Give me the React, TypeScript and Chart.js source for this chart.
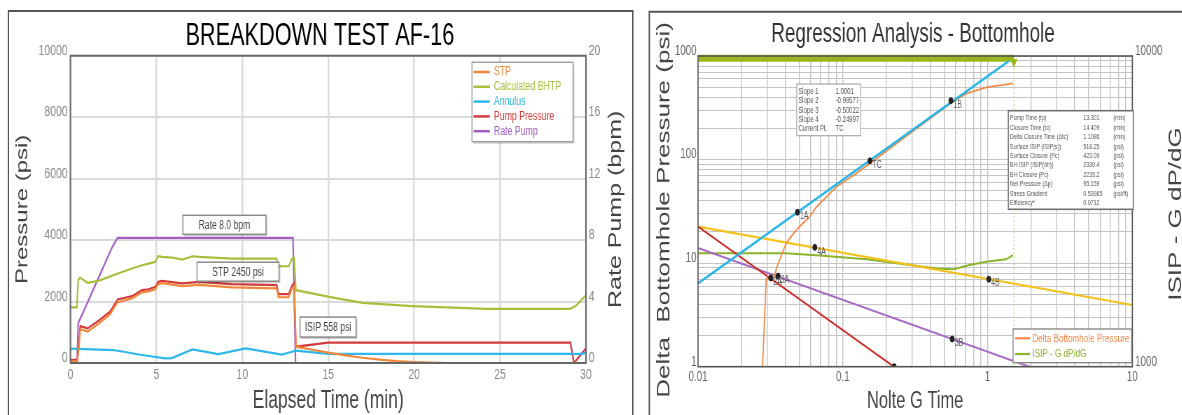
import { useEffect, useRef } from "react";
import { Chart, registerables } from "chart.js";

Chart.register(...registerables);

const SQUEEZE = 0.7;
const H = 415;
const LW = 914;
const RW = 775;
const FONT = '"Liberation Sans", Arial, Helvetica, sans-serif';

// ================= Left chart : BREAKDOWN TEST AF-16 =================
const leftTitle = "BREAKDOWN TEST AF-16";
const leftXTitle = "Elapsed Time (min)";
const leftYTitle = "Pressure (psi)";
const leftY2Title = "Rate Pump (bpm)";

const stpTime = [0, 0.4, 0.5, 0.57, 1.0, 1.63, 2.3, 2.74, 3.58, 4.16, 4.55, 4.94, 5.1, 5.33, 6.5, 7.5, 9.4, 12.0, 12.1, 12.7, 12.9, 13.02, 13.12, 14, 15, 16, 17, 18, 19, 20, 21, 22, 26.5];
const stpPsi = [50, 60, 600, 1100, 1020, 1280, 1580, 1980, 2100, 2300, 2330, 2400, 2560, 2600, 2500, 2540, 2460, 2430, 2140, 2140, 2430, 2480, 530, 440, 340, 250, 170, 110, 60, 30, 10, 0, 0];

const bhtpTime = [0, 0.37, 0.45, 0.55, 1.0, 1.63, 2.64, 3.58, 4.16, 4.94, 5.1, 5.33, 5.9, 6.5, 7.1, 7.5, 9.4, 12.0, 12.1, 12.7, 12.9, 13.02, 13.12, 15.06, 17, 19.9, 21.9, 24.2, 29.07, 29.4, 29.95];
const bhtpPsi = [1808, 1808, 2700, 2782, 2607, 2672, 2890, 3075, 3182, 3289, 3474, 3451, 3432, 3367, 3474, 3451, 3399, 3399, 3149, 3149, 3399, 3420, 2370, 2153, 1958, 1851, 1808, 1763, 1763, 1851, 2175];

const annulusTime = [0, 2.5, 4.16, 5.5, 5.9, 7.1, 8.6, 10.2, 12.3, 12.9, 13.1, 15, 29.8, 30];
const annulusPsi = [470, 422, 260, 153, 160, 445, 290, 477, 270, 367, 400, 300, 300, 340];

const pumpTime = [0, 0.4, 0.5, 0.57, 1.0, 1.63, 2.3, 2.74, 3.58, 4.16, 4.55, 4.94, 5.1, 5.33, 6.5, 7.5, 9.4, 12.0, 12.1, 12.7, 12.9, 13.02, 13.12, 15, 29.1, 29.3, 29.6, 30];
const pumpPsi = [100, 110, 700, 1200, 1127, 1373, 1666, 2068, 2175, 2370, 2400, 2477, 2640, 2670, 2588, 2640, 2565, 2532, 2240, 2240, 2532, 2600, 530, 660, 660, 0, 200, 480];

const rateTime = [0, 0.38, 0.45, 0.82, 2.41, 2.74, 12.95, 13.1, 30];
const rateBpm = [0, 0, 2.6, 3.5, 7.5, 8.15, 8.15, 0, 0];

const noteText = ["Rate 8.0 bpm", "STP 2450 psi", "ISIP 558 psi"];
const noteTime = [8.96, 9.75, 14.99];
const notePsi = [4497, 2971, 1169];

// ================= Right chart : Regression Analysis =================
const rightTitle = "Regression Analysis - Bottomhole";
const rightXTitle = "Nolte G Time";
const rightYTitle = "Delta  Bottomhole Pressure (psi)";
const rightY2Title = "ISIP - G dP/dG";

const slope1G = [0.01, 1.4];
const slope1P = [6.38, 893];
const slope2G = [0.01, 0.235];
const slope2P = [22.5, 0.96];
const slope3G = [0.01, 2.2];
const slope3P = [14.0, 0.94];
const slope4G = [0.01, 10];
const slope4P = [22.5, 3.94];

const dbhpG = [0.0275, 0.0279, 0.0294, 0.0296, 0.0334, 0.0348, 0.0397, 0.043, 0.049, 0.0546, 0.059, 0.0657, 0.0905, 0.124, 0.154, 0.3, 0.558, 0.716, 0.98, 1.505];
const dbhpP = [0.6, 1.0, 5.9, 7.1, 7.2, 8.9, 14.4, 17.4, 21.7, 25.2, 28.1, 34.9, 54.7, 73.5, 91.8, 185, 350, 435, 498, 544];

const isipG = [0.01, 0.04, 0.0657, 0.146, 0.29, 0.45, 0.58, 0.75, 0.98, 1.34, 1.5];
const isipDPdG = [2317, 2317, 2286, 2216, 2125, 2070, 2058, 2125, 2178, 2216, 2286];

const pumpBarG = [0.01, 1.52];
const pumpBarP = [950, 950];
const closureG = [1.52, 1.52];
const closureP = [1000, 1];
const closureMarkG = [1.52];
const closureMarkP = [873];

const markerG = [0.0486, 0.154, 0.558, 0.0641, 1.02, 0.0318, 0.0357, 0.57, 0.2264];
const markerP = [31, 97.3, 370, 14.2, 7.0, 7.2, 7.5, 1.85, 1.0];
const markerLabel = ["1A", "TC", "1B", "4A", "4B", "2A", "3A", "3B", "2B"];

const slopeNames = ["Slope 1", "Slope 2", "Slope 3", "Slope 4", "Current Pt."];
const slopeValues = ["1.0001", "-0.99577", "-0.50022", "-0.24997", "TC"];

const infoNames = ["Pump Time (tp)", "Closure Time (tc)", "Delta Closure Time (\u0394tc)", "Surface ISIP (ISIP(s))", "Surface Closure (Pc)", "BH ISIP (ISIP(bh))", "BH Closure (Pc)", "Net Pressure (\u0394p)", "Stress Gradient", "Efficiency*"];
const infoValues = ["13.301", "14.409", "1.1086", "518.25", "423.09", "2330.4", "2235.2", "95.159", "0.53985", "0.0712"];
const infoUnits = ["(min)", "(min)", "(min)", "(psi)", "(psi)", "(psi)", "(psi)", "(psi)", "(psi/ft)", ""];

// ================= helpers =================
function pts(xs: number[], ys: number[]) {
  return xs.map((x, i) => ({ x, y: ys[i] }));
}

function drawText(ctx: any, s: string, x: number, y: number, size: number, color: string, align = "left", baseline = "middle", rot = 0) {
  ctx.save();
  ctx.translate(x, y);
  if (rot) ctx.rotate(rot);
  ctx.font = `${size}px ${FONT}`;
  ctx.fillStyle = color;
  ctx.textAlign = align;
  ctx.textBaseline = baseline;
  ctx.fillText(s, 0, 0);
  ctx.restore();
}

function drawBox(ctx: any, x: number, y: number, w: number, h: number, stroke: string, lw: number, shadow = false) {
  ctx.save();
  if (shadow) {
    ctx.fillStyle = "rgba(0,0,0,0.18)";
    ctx.fillRect(x + 2, y + 2, w, h);
  }
  ctx.fillStyle = "#ffffff";
  ctx.fillRect(x, y, w, h);
  ctx.strokeStyle = stroke;
  ctx.lineWidth = lw;
  ctx.strokeRect(x, y, w, h);
  ctx.restore();
}

function isDecade(v: number) {
  const l = Math.log10(v);
  return Math.abs(l - Math.round(l)) < 1e-9;
}

function logTicks(min: number, max: number) {
  const out: any[] = [];
  for (let e = Math.round(Math.log10(min)); Math.pow(10, e) <= max * 1.0001; e++) {
    for (let m = 1; m < 10; m++) {
      const v = +(m * Math.pow(10, e)).toPrecision(6);
      if (v >= min * 0.9999 && v <= max * 1.0001) out.push({ value: v });
    }
  }
  return out;
}

const plainLabel = (v: any) => String(Number(v));

// ================= left chart config =================
const leftColors = ["#F0883C", "#A6BF3A", "#2DB7EA", "#D23B3B", "#A55DC4"];

const leftDecor = {
  id: "leftDecor",
  afterDraw(chart: any) {
    const { ctx, chartArea: a, scales } = chart;
    ctx.save();
    ctx.strokeStyle = "#555";
    ctx.lineWidth = 2;
    ctx.beginPath();
    ctx.moveTo(12, H);
    ctx.lineTo(12, 11);
    ctx.lineTo(904, 11);
    ctx.lineTo(904, H);
    ctx.stroke();
    ctx.strokeStyle = "#666";
    ctx.lineWidth = 2;
    ctx.strokeRect(a.left, a.top, a.right - a.left, a.bottom - a.top);
    drawText(ctx, leftTitle, 457, 45, 31, "#000", "center", "alphabetic");
    const cy = (a.top + a.bottom) / 2;
    drawText(ctx, leftYTitle, 32, cy, 24, "#444", "center", "middle", -Math.PI / 2);
    drawText(ctx, leftY2Title, 880, cy, 25, "#444", "center", "middle", -Math.PI / 2);
    drawText(ctx, leftXTitle, (a.left + a.right) / 2, 408, 25, "#444", "center", "alphabetic");
    const noteW = [118.6, 117, 80];
    const noteH = [19, 19, 20];
    noteText.forEach((t, i) => {
      const x = scales.x.getPixelForValue(noteTime[i]);
      const y = scales.y.getPixelForValue(notePsi[i]);
      drawBox(ctx, x - noteW[i] / 2, y - noteH[i] / 2, noteW[i], noteH[i], "#8a8a8a", 1.5, true);
      drawText(ctx, t, x, y + 0.5, 12.3, "#444", "center", "middle");
    });
    drawBox(ctx, 674.3, 62.3, 144.3, 79.4, "#a0a0a0", 1.5, true);
    chart.data.datasets.forEach((ds: any, i: number) => {
      const y = 72 + i * 14.8;
      ctx.strokeStyle = ds.borderColor;
      ctx.lineWidth = 2.5;
      ctx.beginPath();
      ctx.moveTo(676.4, y);
      ctx.lineTo(699.7, y);
      ctx.stroke();
      drawText(ctx, ds.label, 705.6, y, 12.5, ds.borderColor, "left", "middle");
    });
    ctx.restore();
  },
};

function buildLeft(): any {
  const tickFont = { family: FONT, size: 15 };
  return {
    type: "line",
    data: {
      datasets: [
        { label: "STP", data: pts(stpTime, stpPsi), borderColor: leftColors[0], yAxisID: "y" },
        { label: "Calculated BHTP", data: pts(bhtpTime, bhtpPsi), borderColor: leftColors[1], yAxisID: "y" },
        { label: "Annulus", data: pts(annulusTime, annulusPsi), borderColor: leftColors[2], yAxisID: "y" },
        { label: "Pump Pressure", data: pts(pumpTime, pumpPsi), borderColor: leftColors[3], yAxisID: "y" },
        { label: "Rate Pump", data: pts(rateTime, rateBpm), borderColor: leftColors[4], yAxisID: "y2" },
      ],
    },
    options: {
      animation: false,
      responsive: false,
      devicePixelRatio: 1,
      layout: { padding: { top: 55.7, left: 0, right: 0, bottom: 0 } },
      elements: { point: { radius: 0 }, line: { borderWidth: 2.2, tension: 0, fill: false } },
      plugins: { legend: { display: false }, tooltip: { enabled: false }, title: { display: false } },
      scales: {
        x: {
          type: "linear",
          min: 0,
          max: 30,
          ticks: { stepSize: 5, color: "#888", font: tickFont, padding: 3, maxRotation: 0, callback: plainLabel },
          grid: { color: "#dadada", lineWidth: 2.5, drawTicks: false },
          border: { display: false },
          afterFit: (s: any) => { s.height = H - 363; },
        },
        y: {
          type: "linear",
          position: "left",
          min: 0,
          max: 10000,
          ticks: { stepSize: 2000, color: "#888", font: tickFont, padding: 4, labelOffset: -5, callback: plainLabel },
          grid: { color: "#dadada", lineWidth: 2, drawTicks: false },
          border: { display: false },
          afterFit: (s: any) => { s.width = 100.7; },
        },
        y2: {
          type: "linear",
          position: "right",
          min: 0,
          max: 20,
          ticks: { stepSize: 4, color: "#888", font: tickFont, padding: 4, labelOffset: -5, callback: plainLabel },
          grid: { display: false, drawTicks: false },
          border: { display: false },
          afterFit: (s: any) => { s.width = LW - 837; },
        },
      },
    },
    plugins: [leftDecor],
  };
}

// ================= right chart config =================
const rightDecor = {
  id: "rightDecor",
  afterDraw(chart: any) {
    const { ctx, chartArea: a } = chart;
    ctx.save();
    ctx.strokeStyle = "#555";
    ctx.lineWidth = 2;
    ctx.beginPath();
    ctx.moveTo(13.3, H);
    ctx.lineTo(13.3, 11.7);
    ctx.lineTo(RW, 11.7);
    ctx.stroke();
    ctx.strokeStyle = "#555";
    ctx.lineWidth = 1.6;
    ctx.strokeRect(a.left, a.top, a.right - a.left, a.bottom - a.top);
    drawText(ctx, rightTitle, 390, 42, 27, "#333", "center", "alphabetic");
    drawText(ctx, rightYTitle, 35, 210, 26, "#444", "center", "middle", -Math.PI / 2);
    drawText(ctx, rightY2Title, 766, 214, 26, "#444", "center", "middle", -Math.PI / 2);
    drawText(ctx, rightXTitle, (a.left + a.right) / 2, 408.3, 23.5, "#444", "center", "alphabetic");

    const meta = chart.getDatasetMeta(0);
    ctx.save();
    ctx.beginPath();
    ctx.rect(a.left, a.top, a.right - a.left, a.bottom - a.top);
    ctx.clip();
    meta.data.forEach((p: any, i: number) => {
      drawText(ctx, markerLabel[i], p.x + 3.5, p.y + 4.5, 10, "#555", "left", "middle");
    });
    ctx.restore();

    drawBox(ctx, 223.9, 84, 91.4, 51.7, "#a8a8a8", 1.2);
    slopeNames.forEach((n, i) => {
      const y = 91.7 + i * 9.25;
      drawText(ctx, n, 226.2, y, 8.5, "#555", "left", "middle");
      drawText(ctx, slopeValues[i], 279.5, y, 8.5, "#555", "left", "middle");
    });

    drawBox(ctx, 526.1, 110.7, 178.6, 98.6, "#707070", 1.6);
    infoNames.forEach((n, i) => {
      const y = 118.3 + i * 9.41;
      drawText(ctx, n, 528.6, y, 7.6, "#555", "left", "middle");
      drawText(ctx, infoValues[i], 633.3, y, 7.6, "#555", "left", "middle");
      drawText(ctx, infoUnits[i], 676.2, y, 7.6, "#555", "left", "middle");
    });

    drawBox(ctx, 533, 329, 169, 33.7, "#8a8a8a", 1.4);
    [2, 6].forEach((di, r) => {
      const ds = chart.data.datasets[di];
      const y = 338.3 + r * 15.7;
      ctx.strokeStyle = ds.borderColor;
      ctx.lineWidth = 2.2;
      ctx.beginPath();
      ctx.moveTo(535.7, y);
      ctx.lineTo(557, y);
      ctx.stroke();
      drawText(ctx, ds.label, 560.5, y, 11.6, ds.borderColor, "left", "middle");
    });
    ctx.restore();
  },
};

function buildRight(): any {
  const tickFont = { family: FONT, size: 14 };
  const labelCb = (v: any) => (isDecade(Number(v)) ? String(Number(v)) : "");
  return {
    type: "line",
    data: {
      datasets: [
        {
          label: "Points",
          data: pts(markerG, markerP),
          showLine: false,
          pointRadius: 3,
          pointBackgroundColor: "#222",
          pointBorderColor: "#222",
          borderColor: "#222",
          yAxisID: "y",
        },
        { label: "Slope 1", data: pts(slope1G, slope1P), borderColor: "#29B5E9", borderWidth: 2.6, yAxisID: "y" },
        { label: "Delta Bottomhole Pressure", data: pts(dbhpG, dbhpP), borderColor: "#F08A4B", borderWidth: 1.8, yAxisID: "y" },
        { label: "Slope 2", data: pts(slope2G, slope2P), borderColor: "#C9302C", borderWidth: 2, yAxisID: "y" },
        { label: "Slope 3", data: pts(slope3G, slope3P), borderColor: "#A66BC6", borderWidth: 2, yAxisID: "y" },
        { label: "Slope 4", data: pts(slope4G, slope4P), borderColor: "#F3C21A", borderWidth: 2.2, yAxisID: "y" },
        { label: "ISIP - G dP/dG", data: pts(isipG, isipDPdG), borderColor: "#8CB42B", borderWidth: 2, yAxisID: "y2" },
        {
          label: "Closure mark",
          data: pts(closureMarkG, closureMarkP),
          showLine: false,
          pointStyle: "triangle",
          pointRotation: 180,
          pointRadius: 5,
          pointBackgroundColor: "#9AB71A",
          pointBorderColor: "#9AB71A",
          borderColor: "#9AB71A",
          clip: 10,
          yAxisID: "y",
        },
        { label: "Pumping", data: pts(pumpBarG, pumpBarP), borderColor: "#9AB71A", borderWidth: 7, borderCapStyle: "butt", clip: 8, yAxisID: "y" },
        { label: "Closure", data: pts(closureG, closureP), borderColor: "#CDD67A", borderWidth: 1.2, borderDash: [2, 2], yAxisID: "y" },
      ],
    },
    options: {
      animation: false,
      responsive: false,
      devicePixelRatio: 1,
      layout: { padding: { top: 56, left: 0, right: 0, bottom: 0 } },
      elements: { point: { radius: 0 }, line: { tension: 0, fill: false } },
      plugins: { legend: { display: false }, tooltip: { enabled: false }, title: { display: false } },
      scales: {
        x: {
          type: "logarithmic",
          min: 0.01,
          max: 10,
          afterBuildTicks: (s: any) => { s.ticks = logTicks(0.01, 10); },
          ticks: { autoSkip: false, minRotation: 0, maxRotation: 0, callback: labelCb, color: "#666", font: tickFont, padding: 2 },
          grid: { color: "#c4c4c4", lineWidth: 1.4, drawTicks: false },
          border: { display: false },
          afterFit: (s: any) => { s.height = H - 366.7; },
        },
        y: {
          type: "logarithmic",
          position: "left",
          min: 1,
          max: 1000,
          afterBuildTicks: (s: any) => { s.ticks = logTicks(1, 1000); },
          ticks: { autoSkip: false, callback: labelCb, color: "#666", font: tickFont, padding: 2, labelOffset: -5 },
          grid: { color: "#c4c4c4", lineWidth: 1, drawTicks: false },
          border: { display: false },
          afterFit: (s: any) => { s.width = 82.9; },
        },
        y2: {
          type: "logarithmic",
          position: "right",
          min: 1000,
          max: 10000,
          afterBuildTicks: (s: any) => { s.ticks = [{ value: 1000 }, { value: 10000 }]; },
          ticks: { autoSkip: false, callback: labelCb, color: "#666", font: tickFont, padding: 4, labelOffset: -5 },
          grid: { display: false, drawTicks: false },
          border: { display: false },
          afterFit: (s: any) => { s.width = RW - 703.3; },
        },
      },
    },
    plugins: [rightDecor],
  };
}

// ================= components =================
function ChartPanel({ left, width, build }: { left: number; width: number; build: () => any }) {
  const ref = useRef<HTMLCanvasElement | null>(null);
  useEffect(() => {
    if (!ref.current) return;
    const chart = new Chart(ref.current, build());
    return () => chart.destroy();
  }, []);
  return (
    <div
      style={{
        position: "absolute",
        left,
        top: 0,
        width,
        height: H,
        transform: `scaleX(${SQUEEZE})`,
        transformOrigin: "0 0",
      }}
    >
      <canvas ref={ref} width={width} height={H} style={{ display: "block", width, height: H }} />
    </div>
  );
}

export default function App() {
  return (
    <div
      style={{
        position: "absolute",
        left: 0,
        top: 0,
        width: 1182,
        height: H,
        overflow: "hidden",
        background: "#ffffff",
      }}
    >
      <ChartPanel left={0} width={LW} build={buildLeft} />
      <ChartPanel left={640} width={RW} build={buildRight} />
    </div>
  );
}
